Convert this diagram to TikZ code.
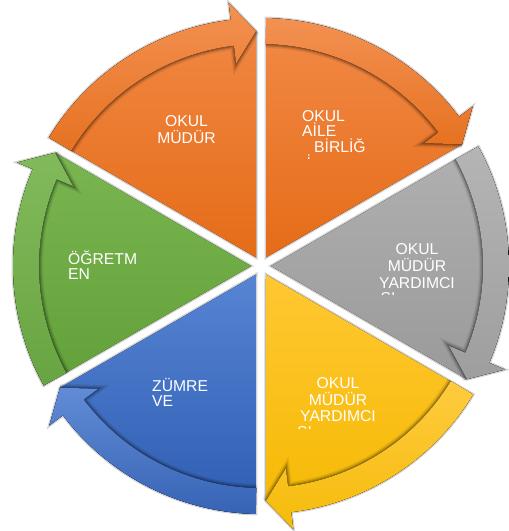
\documentclass[tikz,border=0pt]{standalone}
\usepackage{fontspec}
\newfontfamily\lbfont{Liberation Sans}
\definecolor{orT}{HTML}{F28A47}
\definecolor{orB}{HTML}{E56C18}
\definecolor{grT}{HTML}{B0B0B0}
\definecolor{grB}{HTML}{9A9A9A}
\definecolor{yeT}{HTML}{FFC833}
\definecolor{yeB}{HTML}{F5B800}
\definecolor{blT}{HTML}{5784D3}
\definecolor{blB}{HTML}{2E5DB2}
\definecolor{gnT}{HTML}{7AB650}
\definecolor{gnB}{HTML}{62A03A}
\tikzset{
  gapline/.style={draw=black!30, line width=3pt, opacity=.55},
  lbl/.style={text=white, inner sep=0pt, font=\lbfont\fontsize{15.7}{#1}\selectfont},
  lbl/.default=16
}
\newcommand\sectorpiece[4]{%
  \pgfmathsetmacro\sMid{(#1+#2)/2}%
  \pgfmathsetmacro\sTail{#2-1.2}%
  \pgfmathsetmacro\sHead{#1+1.2}%
  \pgfmathsetmacro\sBase{#1+7}%
  \begin{scope}[shift={(C)}]
    \draw[gapline] (\sMid:10) -- (\sTail:248) arc[start angle=\sTail, end angle=\sBase, radius=248]
      -- (\sBase:265) -- (\sHead:235) -- cycle;
    \fill[top color=#3, bottom color=#4] (\sMid:10) -- (\sTail:248)
      arc[start angle=\sTail, end angle=\sBase, radius=248]
      -- (\sBase:265) -- (\sHead:235) -- cycle;
    \draw[line width=8pt, black, opacity=.08] (\sTail:222) arc[start angle=\sTail, end angle=\sBase, radius=222] -- (\sBase:204) -- (\sHead:235);
    \draw[line width=5pt, black, opacity=.14] (\sTail:222) arc[start angle=\sTail, end angle=\sBase, radius=222] -- (\sBase:204) -- (\sHead:235);
    \draw[line width=2.5pt, black, opacity=.2] (\sTail:222) arc[start angle=\sTail, end angle=\sBase, radius=222] -- (\sBase:204) -- (\sHead:235);
    \fill[top color=#3!94!white, bottom color=#4!96!white] (\sTail:248)
      arc[start angle=\sTail, end angle=\sBase, radius=248]
      -- (\sBase:265) -- (\sHead:235) -- (\sBase:204) -- (\sBase:222)
      arc[start angle=\sBase, end angle=\sTail, radius=222] -- cycle;
  \end{scope}}
\begin{document}
\begin{tikzpicture}[x=1pt,y=1pt]
\useasboundingbox (0,0) rectangle (509,531);
\fill[white] (0,0) rectangle (509,531);
\coordinate (C) at (261,265);
% sectors: head angle, tail angle (arrows run clockwise)
\sectorpiece{90}{150}{orT}{orB}
\sectorpiece{30}{90}{orT}{orB}
\sectorpiece{-30}{30}{grT}{grB}
\sectorpiece{-90}{-30}{yeT}{yeB}
\sectorpiece{210}{270}{blT}{blB}
\sectorpiece{150}{210}{gnT}{gnB}
% labels
\node[lbl=17, align=center, anchor=north] (mudur) at (186.5,419.7) {\rule{0pt}{15pt}OKUL\\MÜDÜR};
\node[lbl=15.7, align=left, anchor=north west] (aile) at (302,424.9) {\rule{0pt}{15pt}OKUL\\AİLE\\\hspace*{12pt}BİRLİĞ};
\begin{scope}
  \clip (290,372.5) rectangle (340,380);
  \node[lbl, anchor=north west] (aile4) at (306.5,377.5) {\rule{0pt}{15pt}İ};
\end{scope}
\node[lbl=16.8, align=center, anchor=north] (yard1) at (417,291.6) {\rule{0pt}{15pt}OKUL\\MÜDÜR\\YARDIMCI};
\begin{scope}
  \clip (370,236.5) rectangle (460,245);
  \node[lbl, anchor=north west] (yard1b) at (380.5,242.9) {\rule{0pt}{15pt}SI};
\end{scope}
\node[lbl=16.1, align=center, anchor=north] (yard2) at (338,157.2) {\rule{0pt}{15pt}OKUL\\MÜDÜR\\YARDIMCI};
\begin{scope}
  \clip (290,102.5) rectangle (380,110);
  \node[lbl, anchor=north west] (yard2b) at (297,108.9) {\rule{0pt}{15pt}SI};
\end{scope}
\node[lbl=15.2, align=left, anchor=north west] (ogretmen) at (68,281.9) {\rule{0pt}{15pt}ÖĞRETM\\EN};
\node[lbl=14.5, align=left, anchor=north west] (zumre) at (152,154.4) {\rule{0pt}{15pt}ZÜMRE\\VE};
\end{tikzpicture}
\end{document}
